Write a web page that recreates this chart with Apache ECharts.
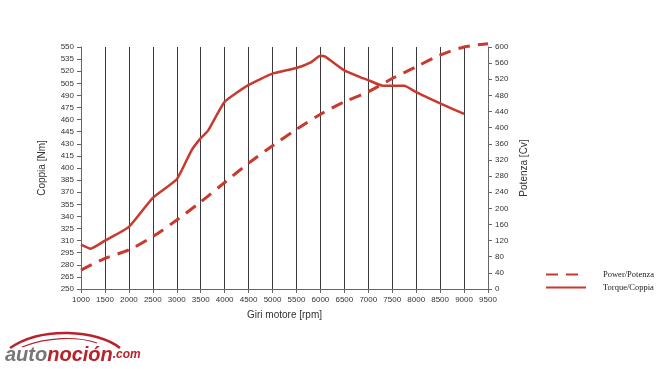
<!DOCTYPE html>
<html><head><meta charset="utf-8">
<script src="https://cdn.jsdelivr.net/npm/echarts@6/dist/echarts.min.js"></script>
<style>html,body{margin:0;padding:0;background:#fff}#c{width:660px;height:369px}</style>
</head><body><div id="c"></div>
<script>
// ---- data ----
const rpmTicks = [1000,1500,2000,2500,3000,3500,4000,4500,5000,5500,6000,6500,7000,7500,8000,8500,9000,9500];
const torqueTicks = [250,265,280,295,310,325,340,355,370,385,400,415,430,445,460,475,490,505,520,535,550];
const powerTicks = [0,40,80,120,160,200,240,280,320,360,400,440,480,520,560,600];

const torqueRpm = [1000,1200,1500,2000,2500,3000,3300,3500,3650,4000,4500,5000,5500,5800,6000,6100,6500,6900,7000,7300,7500,7750,8000,8500,9000];
const torqueNm  = [305,300,310,327,363,386,421,437,446,482,503,517,524,531,539,538,521,511,509,502,502,502,494,480,467];

const powerRpm = [1000,1500,2000,2500,3000,3500,4000,4500,5000,5500,6000,6500,7000,7500,8000,8500,9000,9500];
const powerCv  = [47,76,97,130,171,216,264,312,355,396,433,464,489,522,551,580,600,608];

const seriesNames = ['Power/Potenza','Torque/Coppia'];

// ---- chart ----
const red = '#c8392e';
const lblFont = {fontFamily:'Liberation Sans', fontSize:8, color:'#333'};
const chart = echarts.init(document.getElementById('c'), null, {renderer:'canvas'});
chart.setOption({
  backgroundColor:'#fff',
  animation:false,
  grid:{left:81, right:172, top:47, bottom:80},
  legend:{
    orient:'vertical', left:540, top:265, itemWidth:40, itemHeight:8, itemGap:4,
    data:seriesNames,
    itemStyle:{opacity:0},
    textStyle:{fontFamily:'Liberation Serif', fontSize:8.5, color:'#222', padding:[0,0,0,12]}
  },
  xAxis:{
    type:'value', min:1000, max:9500, interval:500,
    name:'Giri motore [rpm]', nameLocation:'middle', nameGap:21,
    nameTextStyle:{fontFamily:'Liberation Sans', fontSize:10, color:'#333'},
    axisLine:{lineStyle:{color:'#666'}},
    axisTick:{show:true, length:4, lineStyle:{color:'#666'}},
    axisLabel:Object.assign({margin:7, formatter:(v)=>String(v)}, lblFont),
    splitLine:{show:true, lineStyle:{color:'#3a3a3a', width:1}}
  },
  yAxis:[{
    type:'value', min:250, max:550, position:'left',
    name:'Coppia [Nm]', nameLocation:'middle', nameGap:34, nameRotate:90,
    nameTextStyle:{fontFamily:'Liberation Sans', fontSize:10, color:'#333'},
    axisLine:{show:true, lineStyle:{color:'#666'}},
    axisTick:{show:true, length:4, customValues:torqueTicks, lineStyle:{color:'#666'}},
    axisLabel:Object.assign({margin:7, customValues:torqueTicks}, lblFont),
    splitLine:{show:false}
  },{
    type:'value', min:0, max:600, interval:40, position:'right',
    name:'Potenza [Cv]', nameLocation:'middle', nameGap:31, nameRotate:90,
    nameTextStyle:{fontFamily:'Liberation Sans', fontSize:10, color:'#333'},
    axisLine:{show:true, lineStyle:{color:'#666'}},
    axisTick:{show:true, length:4, lineStyle:{color:'#666'}},
    axisLabel:Object.assign({margin:7}, lblFont),
    splitLine:{show:false}
  }],
  series:[{
    name:seriesNames[0], type:'line', yAxisIndex:1, smooth:0.3, showSymbol:false, symbol:'none', clip:false,
    data: powerRpm.map((r,i)=>[r, powerCv[i]]),
    lineStyle:{color:red, width:3, type:[12,8]}, itemStyle:{color:red}
  },{
    name:seriesNames[1], type:'line', yAxisIndex:0, smooth:0.15, showSymbol:false, symbol:'none',
    data: torqueRpm.map((r,i)=>[r, torqueNm[i]]),
    lineStyle:{color:red, width:2.5}, itemStyle:{color:red}
  }],
  graphic:[
    {type:'bezierCurve', shape:{x1:10,y1:348,x2:120,y2:348,cpx1:42,cpy1:326,cpx2:97,cpy2:330}, style:{fill:null, stroke:'#b8232a', lineWidth:2.5}},
    {type:'bezierCurve', shape:{x1:22,y1:347,x2:97,y2:343,cpx1:47,cpy1:337,cpx2:77,cpy2:336}, style:{fill:null, stroke:'#b8232a', lineWidth:1.2}},
    {type:'text', left:5, top:345, style:{
      text:'{a|auto}{b|noción}{c|.com}',
      rich:{
        a:{fontFamily:'Liberation Sans', fontWeight:'bold', fontStyle:'italic', fontSize:20, fill:'#777'},
        b:{fontFamily:'Liberation Sans', fontWeight:'bold', fontStyle:'italic', fontSize:20, fill:'#b8232a'},
        c:{fontFamily:'Liberation Sans', fontWeight:'bold', fontStyle:'italic', fontSize:12, fill:'#b8232a'}
      }
    }}
  ]
});
</script>
</body></html>
